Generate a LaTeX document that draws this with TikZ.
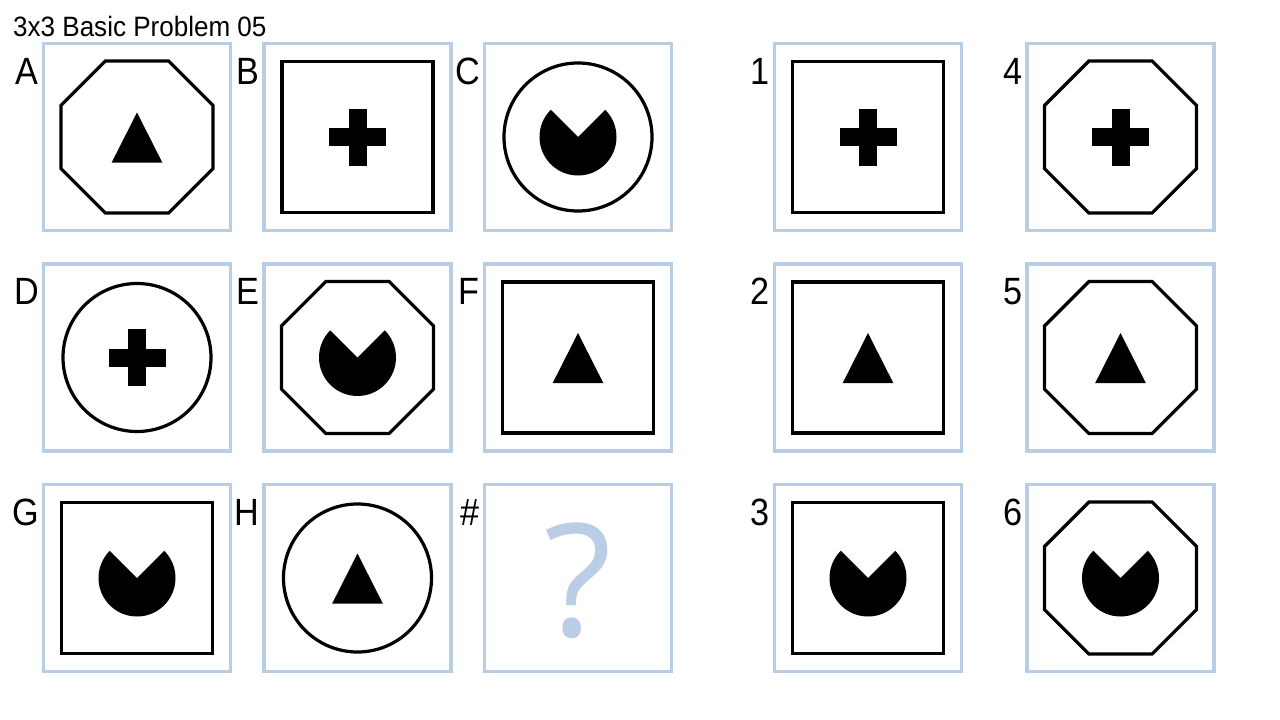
\documentclass[tikz,border=0pt]{standalone}
\usepackage{fontspec}
\setmainfont{Liberation Sans}
\newfontfamily\qfont{Open Sans}
\definecolor{cellblue}{RGB}{185,205,229}
\tikzset{
  cellbox/.style={draw=cellblue, line width=3.2pt, minimum size=187pt, inner sep=0pt, outer sep=0pt},
  lbl/.style={anchor=base east, inner sep=0pt, font=\fontsize{38}{38}\selectfont},
  outline/.style={draw=black, line width=3.2pt, line join=miter},
  sqr/.pic={\draw[outline] (-75.5,-75.5) rectangle (75.5,75.5);},
  octa/.pic={\draw[outline] (22.5:82.3) \foreach \a in {67.5,112.5,...,337.5}{-- (\a:82.3)} -- cycle;},
  circ/.pic={\draw[outline] (0,0) circle[radius=74];},
  tri/.pic={\fill[black] (0,-24.5) -- (25.3,25.5) -- (-25.3,25.5) -- cycle;},
  crs/.pic={\fill[black] (-28.5,-9) rectangle (28.5,9); \fill[black] (-9,-28.5) rectangle (9,28.5);},
  pac/.pic={\fill[black] (0,0) -- (315:38.5) arc[start angle=315,end angle=585,radius=38.5] -- cycle;}
}
\begin{document}
\begin{tikzpicture}[x=1pt,y=-1pt]
\useasboundingbox[fill=white] (0,0) rectangle (1280,720);
\node[anchor=base west, inner sep=0pt, font=\fontsize{28}{28}\selectfont] (title) at (13,36.7) {\scalebox{0.93}[1]{3x3 Basic Problem 05}};
% cells
\foreach \n/\x/\y/\o/\i in {
  A/137/137/octa/tri, B/357.5/137/sqr/crs, C/578/137/circ/pac,
  D/137/357.5/circ/crs, E/357.5/357.5/octa/pac, F/578/357.5/sqr/tri,
  G/137/578/sqr/pac, H/357.5/578/circ/tri,
  1/868/137/sqr/crs, 4/1120.5/137/octa/crs,
  2/868/357.5/sqr/tri, 5/1120.5/357.5/octa/tri,
  3/868/578/sqr/pac, 6/1120.5/578/octa/pac}{
  \node[cellbox] (c\n) at (\x,\y) {};
  \pic (o\n) at (c\n.center) {\o};
  \pic (i\n) at (c\n.center) {\i};
  \node[lbl] (l\n) at ([xshift=-4.5pt]c\n.north west |- 0,\y-53) {\scalebox{0.9}[1]{\n}};
}
\node[cellbox] (cQ) at (578,578) {};
\node[lbl] (lQ) at ([xshift=-4.5pt]cQ.north west |- 0,525) {\scalebox{0.9}[1]{\#}};
\node[anchor=base, inner sep=0pt, text=cellblue, font=\qfont\fontsize{157}{157}\selectfont] (q) at (578.5,636.7) {?};
\end{tikzpicture}
\end{document}
